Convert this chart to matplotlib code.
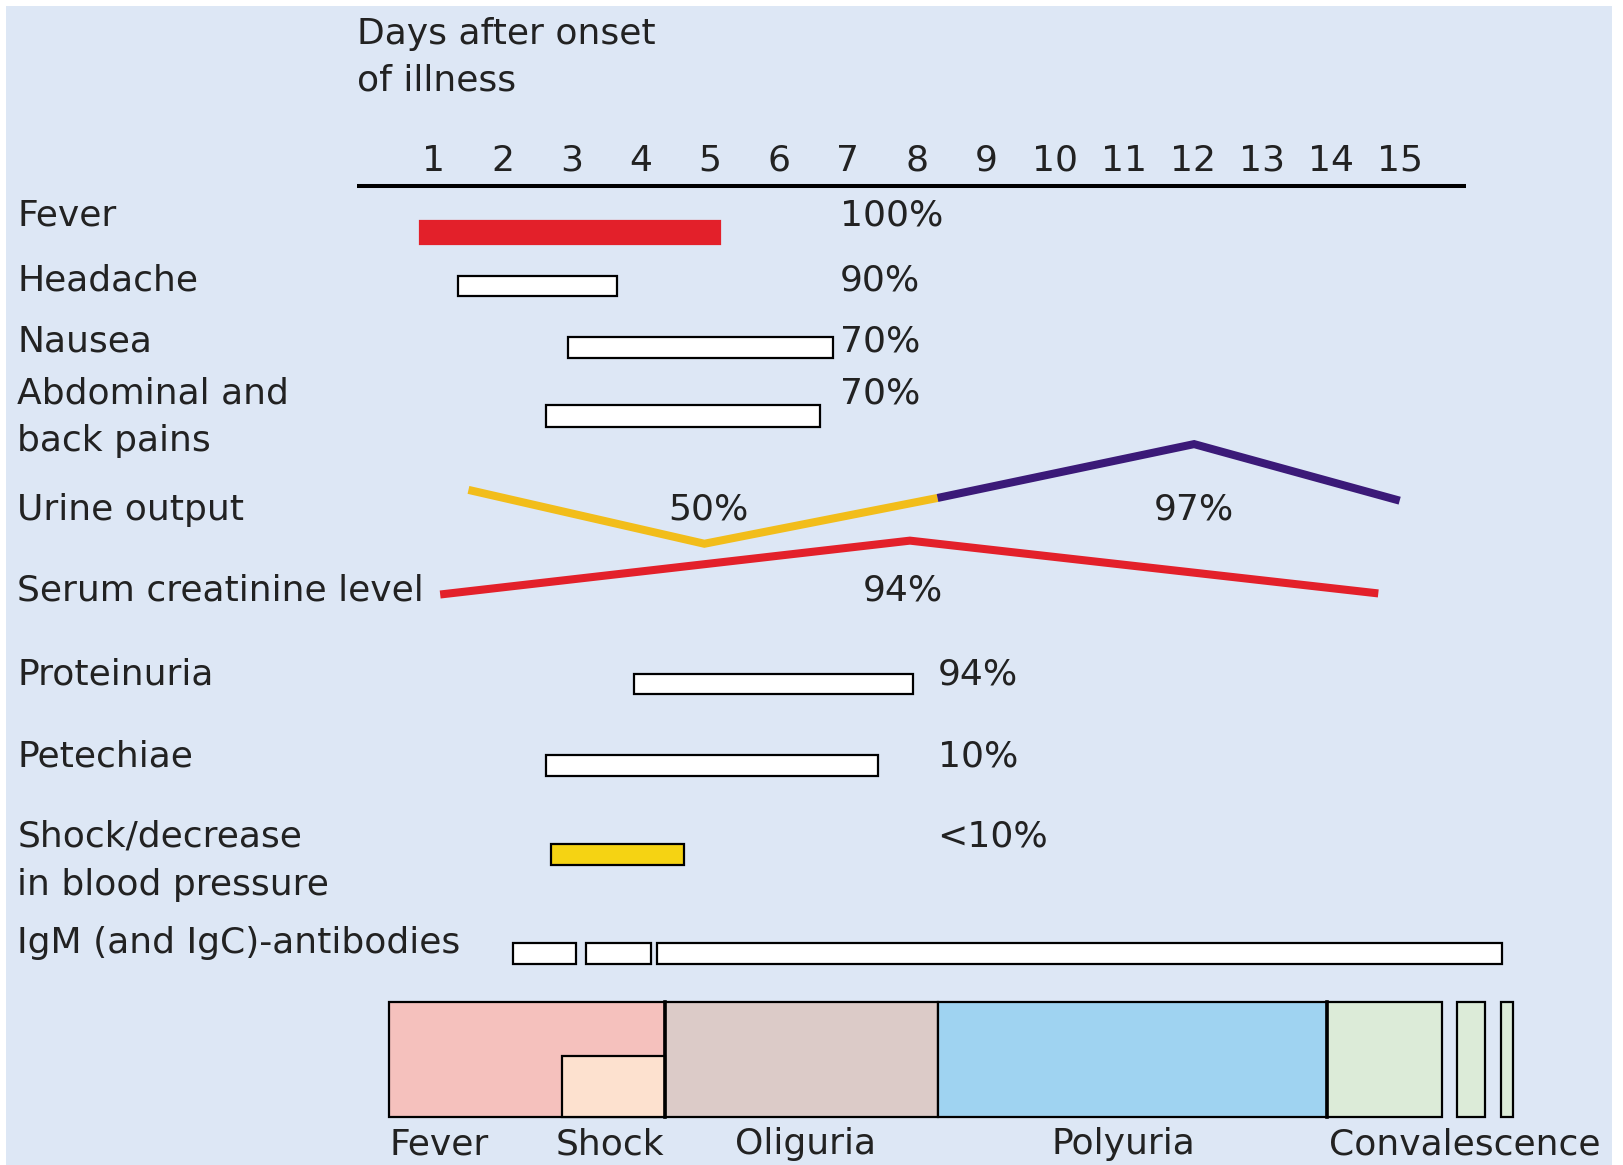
import matplotlib
matplotlib.use("Agg")
import matplotlib.pyplot as plt
from matplotlib.patches import Rectangle

plt.rcParams['font.family'] = ['DejaVu Sans']

# ---------------- data ----------------
days = list(range(1, 16))

bar_names = ["Fever", "Headache", "Nausea", "Abdominal and\nback pains",
             "Proteinuria", "Petechiae", "Shock/decrease\nin blood pressure"]
bar_start = [0.80, 1.35, 2.94, 2.62, 3.90, 2.62, 2.70]
bar_end = [5.14, 3.66, 6.79, 6.60, 7.95, 7.44, 4.62]
bar_pct = ["100%", "90%", "70%", "70%", "94%", "10%", "<10%"]
bar_fill = ["#e3202a", "white", "white", "white", "white", "white", "#f5d313"]

igm_start = [2.14, 3.21, 4.24]
igm_end = [3.06, 4.14, 16.48]

# urine output (level, arbitrary units: higher = more output)
urine_low_days = [1.50, 4.92, 8.30]
urine_low_level = [0.0, -1.0, -0.15]
urine_high_days = [8.30, 12.02, 15.0]
urine_high_level = [-0.15, 0.85, -0.2]
urine_low_pct, urine_high_pct = "50%", "97%"

creat_days = [1.09, 7.90, 14.69]
creat_level = [0.0, 1.0, 0.02]
creat_pct = "94%"

phase_names = ["Fever", "Shock", "Oliguria", "Polyuria", "Convalescence"]
phase_start = [0.35, 2.86, 4.35, 8.31, 13.94]
phase_end = [4.35, 4.35, 8.31, 13.94, 15.61]
phase_colors = ["#f5c1bd", "#fde1cf", "#dccbc8", "#9fd3f1", "#dcebd8"]
conv_extra_start = [15.83, 16.47]
conv_extra_end = [16.24, 16.65]

# ---------------- figure ----------------
W, H = 1624, 1165
SC = 1624 / 1568.0          # layout frame units -> pixels
Wd, Hd = W / SC, H / SC
fig = plt.figure(figsize=(W / 100, H / 100), dpi=100)
fig.patch.set_facecolor("white")
ax = fig.add_axes([0, 0, 1, 1])
ax.set_facecolor("none")
ax.add_patch(Rectangle((6 / W, 0), (1612 - 6) / W, (1165 - 6) / H,
                       transform=fig.transFigure, facecolor="#dde7f5",
                       edgecolor="none", zorder=0, clip_on=False))
px_per_day = 66.6
x0 = 352.4
ax.set_xlim(-x0 / px_per_day, (Wd - x0) / px_per_day)
ax.set_ylim(Hd, 0)
ax.axis("off")

FS = 26
TC = "#222222"
LW_BOX = 1.6

# header
ax.text(-0.11, 33, "Days after onset", fontsize=FS, color=TC, va="center", ha="left")
ax.text(-0.11, 78, "of illness", fontsize=FS, color=TC, va="center", ha="left")
for d in days:
    ax.text(d, 155, str(d), fontsize=FS, color=TC, va="center", ha="center")
ax.plot([-0.11, 15.96], [180, 180], color="black", lw=2.9, solid_capstyle="butt")

label_x = -5.04
# bar rows
bar_y = [224.5, 276, 335.5, 401.5, 660.5, 739, 825]
label_y = [208, 271, 330, 380, 651, 730, 808]
pct_x = [6.88, 6.88, 6.88, 6.88, 8.3, 8.3, 8.3]
pct_y = [208, 271, 330, 380, 651, 730, 808]
bh = [23, 19, 21, 21, 19, 20, 20]
for name, s, e, p, f, y, ly, px, py, h in zip(bar_names, bar_start, bar_end, bar_pct,
                                             bar_fill, bar_y, label_y, pct_x, pct_y, bh):
    ec = f if f == "#e3202a" else "black"
    ax.add_patch(Rectangle((s, y - h / 2), e - s, h, facecolor=f, edgecolor=ec, lw=LW_BOX, zorder=3))
    lines = name.split("\n")
    for i, ln in enumerate(lines):
        ax.text(label_x, ly + i * 46, ln, fontsize=FS, color=TC, va="center", ha="left")
    ax.text(px, py, p, fontsize=FS, color=TC, va="center", ha="left")

# urine output
ax.text(label_x, 492, "Urine output", fontsize=FS, color=TC, va="center", ha="left")
u_base, u_scale = 473, 52
ax.plot(urine_low_days, [u_base - v * u_scale for v in urine_low_level],
        color="#f2bd1a", lw=5.8, solid_capstyle="butt", solid_joinstyle="miter", zorder=4)
ax.plot(urine_high_days, [u_base - v * u_scale for v in urine_high_level],
        color="#3b1a78", lw=5.8, solid_capstyle="butt", solid_joinstyle="miter", zorder=4)
ax.text(4.98, 492, urine_low_pct, fontsize=FS, color=TC, va="center", ha="center")
ax.text(12.02, 492, urine_high_pct, fontsize=FS, color=TC, va="center", ha="center")

# serum creatinine
ax.text(label_x, 570, "Serum creatinine level", fontsize=FS, color=TC, va="center", ha="left")
c_base, c_scale = 574, 52
ax.plot(creat_days, [c_base - v * c_scale for v in creat_level],
        color="#e3202a", lw=5.8, solid_capstyle="butt", solid_joinstyle="miter", zorder=4)
ax.text(7.80, 570, creat_pct, fontsize=FS, color=TC, va="center", ha="center")

# IgM
ax.text(label_x, 910, "IgM (and IgC)-antibodies", fontsize=FS, color=TC, va="center", ha="left")
for s, e in zip(igm_start, igm_end):
    ax.add_patch(Rectangle((s, 910), e - s, 21, facecolor="white", edgecolor="black", lw=LW_BOX, zorder=3))

# phases
py0, py1 = 967, 1078
for n, s, e, c in zip(phase_names, phase_start, phase_end, phase_colors):
    if n == "Shock":
        continue
    ax.add_patch(Rectangle((s, py0), e - s, py1 - py0, facecolor=c, edgecolor="black", lw=LW_BOX, zorder=2))
si = phase_names.index("Shock")
ax.add_patch(Rectangle((phase_start[si], 1020), phase_end[si] - phase_start[si], py1 - 1020,
                       facecolor=phase_colors[si], edgecolor="black", lw=LW_BOX, zorder=3))
for s, e in zip(conv_extra_start, conv_extra_end):
    ax.add_patch(Rectangle((s, py0), e - s, py1 - py0, facecolor=phase_colors[-1],
                           edgecolor="black", lw=LW_BOX, zorder=2))
ax.plot([4.35, 4.35], [py0, py1], color="black", lw=2.6, zorder=4)
ax.plot([13.94, 13.94], [py0, py1], color="black", lw=2.6, zorder=4)

phase_lx = [0.35, 2.77, 5.36, 11.0, 13.97]
phase_ha = ["left", "left", "left", "center", "left"]
for n, x, ha in zip(phase_names, phase_lx, phase_ha):
    ax.text(x, 1105, n, fontsize=FS, color=TC, va="center", ha=ha)

fig.savefig("out.png", dpi=100)
